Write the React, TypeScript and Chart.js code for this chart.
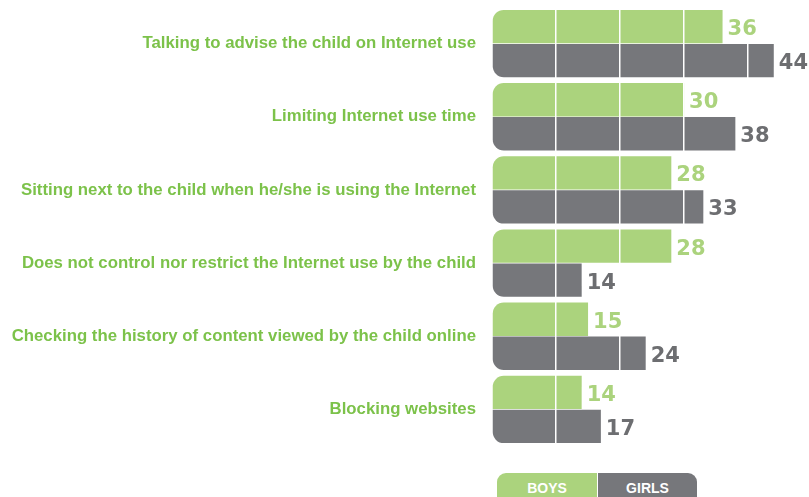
import React, { useEffect, useRef } from "react";
import { Chart, registerables } from "chart.js";

Chart.register(...registerables);

const categories = [
  "Talking to advise the child on Internet use",
  "Limiting Internet use time",
  "Sitting next to the child when he/she is using the Internet",
  "Does not control nor restrict the Internet use by the child",
  "Checking the history of content viewed by the child online",
  "Blocking websites",
];
const boys = [36, 30, 28, 28, 15, 14];
const girls = [44, 38, 33, 14, 24, 17];
const seriesNames = ["BOYS", "GIRLS"];

const GREEN = "#abd37d";
const GREY = "#76777b";
const LABEL_GREEN = "#7cc24a";
const NUM_GREY = "#6d6e71";
const LABEL_FONT = "'Liberation Sans', Arial, sans-serif";

const valueLabels = {
  id: "valueLabels",
  afterDraw(chart: any) {
    const ctx = chart.ctx;
    ctx.save();
    ctx.font = "bold 21px 'DejaVu Sans'";
    ctx.textBaseline = "middle";
    ctx.textAlign = "left";
    chart.data.datasets.forEach((ds: any, di: number) => {
      const meta = chart.getDatasetMeta(di);
      ctx.fillStyle = di === 0 ? GREEN : NUM_GREY;
      meta.data.forEach((bar: any, i: number) => {
        ctx.fillText(String(ds.data[i]), bar.x + 5, bar.y + 3);
      });
    });
    ctx.restore();
  },
};

export default function App() {
  const ref = useRef<HTMLCanvasElement>(null);
  useEffect(() => {
    document.body.style.margin = "0";
    const chart = new Chart(ref.current!, {
      type: "bar",
      data: {
        labels: categories,
        datasets: [
          {
            label: seriesNames[0],
            data: boys,
            backgroundColor: GREEN,
            borderRadius: { topLeft: 11, topRight: 0, bottomLeft: 0, bottomRight: 0 },
            borderSkipped: false,
            categoryPercentage: 0.93,
            barPercentage: 0.98,
          },
          {
            label: seriesNames[1],
            data: girls,
            backgroundColor: GREY,
            borderRadius: { topLeft: 0, topRight: 0, bottomLeft: 11, bottomRight: 0 },
            borderSkipped: false,
            categoryPercentage: 0.93,
            barPercentage: 0.98,
          },
        ],
      },
      options: {
        indexAxis: "y",
        animation: false,
        responsive: true,
        maintainAspectRatio: false,
        layout: { padding: { top: 7, bottom: 9, left: 0, right: 0 } },
        plugins: {
          legend: { display: false },
          tooltip: { enabled: false },
        },
        scales: {
          x: {
            min: 0,
            max: 49.5,
            ticks: { display: false, stepSize: 10 },
            border: { display: false },
            grid: {
              z: 1,
              drawTicks: false,
              lineWidth: 1.5,
              color: (c: any) => (c.tick && c.tick.value > 0 && c.tick.value < 49 ? "#ffffff" : "rgba(0,0,0,0)"),
            },
            afterFit: (s: any) => {
              s.height = 0;
              s.paddingLeft = 0;
              s.paddingRight = 0;
              s.paddingTop = 0;
              s.paddingBottom = 0;
            },
          },
          y: {
            border: { display: false },
            grid: { display: false, drawTicks: false },
            ticks: {
              padding: 16,
              color: LABEL_GREEN,
              font: { family: LABEL_FONT, weight: "bold", size: 16.8 },
            },
            afterFit: (s: any) => {
              s.width = 492;
              s.paddingTop = 0;
              s.paddingBottom = 0;
              s.paddingLeft = 0;
              s.paddingRight = 0;
            },
          },
        },
      },
      plugins: [valueLabels],
    });
    return () => chart.destroy();
  }, []);

  const legendBox = (bg: string, radius: string, left: number, width: number, text: string) => (
    <div
      style={{
        position: "absolute",
        left,
        top: 473,
        width,
        height: 30,
        background: bg,
        borderRadius: radius,
        color: "#fff",
        fontFamily: LABEL_FONT,
        fontWeight: "bold",
        fontSize: 14,
        textAlign: "center",
        lineHeight: "30px",
      }}
    >
      {text}
    </div>
  );

  return (
    <div style={{ position: "relative", width: 809, height: 497, overflow: "hidden", background: "#fff" }}>
      <div style={{ position: "absolute", left: 0, top: 0, width: 809, height: 455 }}>
        <canvas ref={ref} />
      </div>
      {legendBox(GREEN, "9px 0 0 0", 497, 100, seriesNames[0])}
      {legendBox(GREY, "0 9px 0 0", 598, 99, seriesNames[1])}
    </div>
  );
}
